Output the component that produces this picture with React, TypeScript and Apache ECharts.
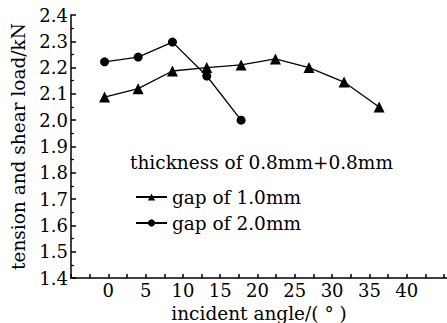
import React, { useEffect, useRef } from "react";
import * as echarts from "echarts";

const angles = [-0.5, 4.0, 8.6, 13.2, 17.8, 22.4, 26.9, 31.6, 36.3];
const gap10 = [2.088, 2.12, 2.187, 2.2, 2.21, 2.233, 2.2, 2.145, 2.05];
const gap20Angles = [-0.5, 4.0, 8.6, 13.2, 17.8];
const gap20 = [2.222, 2.24, 2.297, 2.168, 2.0];
const seriesNames = ["gap of 1.0mm", "gap of 2.0mm"];
const legendTitle = "thickness of 0.8mm+0.8mm";
const xTitle = "incident angle/( ° )";
const yTitle = "tension and shear load/kN";

const FONT = "DejaVu Serif";

export default function App() {
  const ref = useRef<HTMLDivElement>(null);
  useEffect(() => {
    if (!ref.current) return;
    const chart = echarts.init(ref.current, null, { renderer: "svg" });
    chart.setOption({
      animation: false,
      backgroundColor: "#fff",
      textStyle: { fontFamily: FONT },
      title: {
        text: legendTitle,
        left: 130,
        top: 153,
        padding: 0,
        textStyle: { fontFamily: FONT, fontSize: 18.5, fontWeight: "normal", color: "#000" },
      },
      legend: {
        orient: "vertical",
        left: 135,
        top: 186,
        itemWidth: 31,
        itemHeight: 9,
        itemGap: 4,
        padding: 0,
        data: seriesNames,
        textStyle: { fontFamily: FONT, fontSize: 18.5, color: "#000", lineHeight: 22 },
      },
      grid: { left: 71, right: 0, top: 15, bottom: 45, containLabel: false, outerBoundsMode: "none" },
      xAxis: {
        type: "value",
        min: -5,
        max: 45.4,
        interval: 2.5,
        name: xTitle,
        nameLocation: "middle",
        nameGap: 19,
        nameTextStyle: { fontFamily: FONT, fontSize: 18.5, color: "#000" },
        axisLine: { show: true, onZero: false, lineStyle: { color: "#000", width: 1.5 } },
        axisTick: { show: true, inside: true, length: 4, lineStyle: { color: "#000", width: 1.5 } },
        axisLabel: {
          fontFamily: FONT,
          fontSize: 18,
          color: "#000",
          margin: 3,
          showMaxLabel: false,
          formatter: (v: number) => (v >= 0 && v <= 40 && Math.abs(v % 5) < 1e-6 ? String(v) : ""),
        },
        splitLine: { show: false },
      },
      yAxis: {
        type: "value",
        min: 1.4,
        max: 2.4,
        interval: 0.1,
        name: yTitle,
        nameLocation: "middle",
        nameGap: 40,
        nameTextStyle: { fontFamily: FONT, fontSize: 18.5, color: "#000" },
        axisLine: { show: true, onZero: false, lineStyle: { color: "#000", width: 1.5 } },
        axisTick: { show: true, inside: true, length: 5, lineStyle: { color: "#000", width: 1.5 } },
        minorTick: { show: true, splitNumber: 2, length: 3, lineStyle: { color: "#000", width: 1.2 } },
        axisLabel: {
          fontFamily: FONT,
          fontSize: 18,
          color: "#000",
          margin: 3,
          formatter: (v: number) => v.toFixed(1),
        },
        splitLine: { show: false },
      },
      series: [
        {
          name: seriesNames[0],
          type: "line",
          data: angles.map((a, i) => [a, gap10[i]]),
          symbol: "triangle",
          symbolSize: 11,
          itemStyle: { color: "#000" },
          lineStyle: { color: "#000", width: 1.3 },
        },
        {
          name: seriesNames[1],
          type: "line",
          data: gap20Angles.map((a, i) => [a, gap20[i]]),
          symbol: "circle",
          symbolSize: 9,
          itemStyle: { color: "#000" },
          lineStyle: { color: "#000", width: 1.3 },
        },
      ],
    });
    return () => chart.dispose();
  }, []);
  return <div ref={ref} style={{ width: 447, height: 323, position: "absolute", left: 0, top: 0 }} />;
}
